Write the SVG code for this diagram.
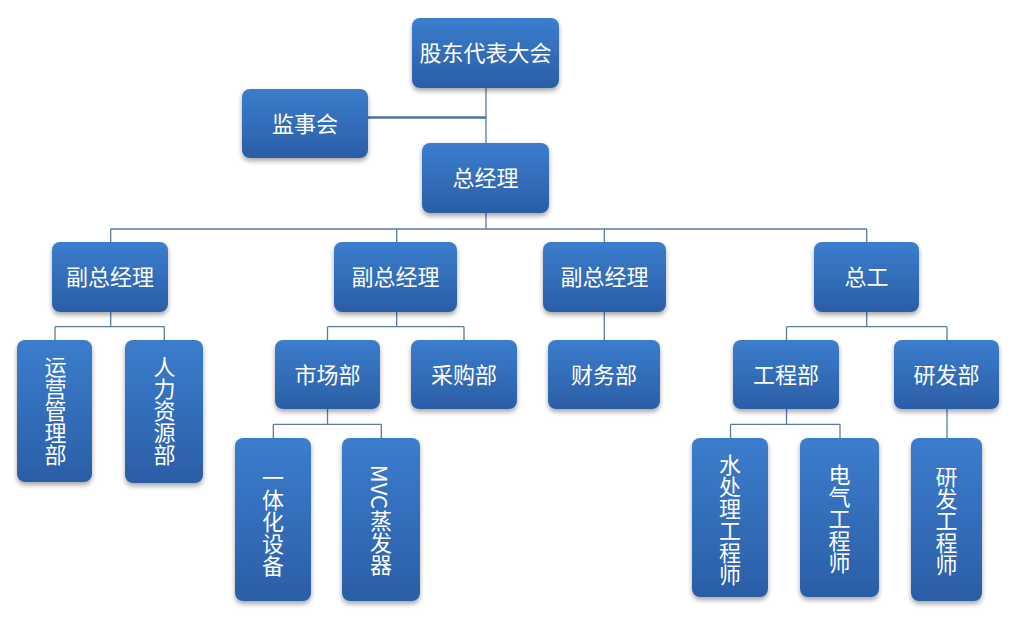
<svg xmlns="http://www.w3.org/2000/svg" width="1011" height="628" viewBox="0 0 1011 628">
<defs>
<linearGradient id="g" x1="0" y1="0" x2="0" y2="1">
<stop offset="0" stop-color="#3b7dcd"/>
<stop offset="1" stop-color="#2b5ea6"/>
</linearGradient>
<filter id="sh" x="-20%" y="-20%" width="140%" height="150%">
<feGaussianBlur in="SourceAlpha" stdDeviation="2.5"/>
<feOffset dx="0" dy="3" result="b"/>
<feComponentTransfer><feFuncA type="linear" slope="0.35"/></feComponentTransfer>
<feMerge><feMergeNode/><feMergeNode in="SourceGraphic"/></feMerge>
</filter>
</defs>
<style>
.box{fill:url(#g);filter:url(#sh);}
.t{fill:#ffffff;font-family:"Noto Sans CJK SC","Noto Sans",sans-serif;font-size:22px;text-anchor:middle;dominant-baseline:central;}
.v{writing-mode:vertical-rl;}
.c{fill:none;stroke:#5a7ca3;stroke-width:1.3;}
.ct{fill:none;stroke:#4a72a8;stroke-width:2.6;}
</style>
<rect width="1011" height="628" fill="#ffffff"/>
<g id="connectors">
<path class="c" d="M486,88V143M486,213V229M110.7,229H866.7M110.7,229V242M396.7,229V242M604.3,229V242M866.7,229V242"/>
<path class="ct" d="M368,117.5H486"/>
<path class="c" d="M110.7,312V326.7M55,326.7H164.3M55,326.7V340M164.3,326.7V340"/>
<path class="c" d="M396.7,312V326.7M327.5,326.7H464M327.5,326.7V340M464,326.7V340"/>
<path class="c" d="M604.3,312V340"/>
<path class="c" d="M866.7,312V326.7M786.5,326.7H947M786.5,326.7V340M947,326.7V340"/>
<path class="c" d="M327.5,409V424.3M273.3,424.3H381.3M273.3,424.3V438M381.3,424.3V438"/>
<path class="c" d="M786.5,409V424.3M730.5,424.3H840M730.5,424.3V438M840,424.3V438"/>
<path class="c" d="M947,409V438"/>
</g>
<g id="n1"><rect class="box" x="412" y="18" width="147" height="70" rx="8"/><text class="t" x="485.5" y="51">股东代表大会</text></g>
<g id="n2"><rect class="box" x="242" y="89" width="126" height="69" rx="8"/><text class="t" x="305" y="121.5">监事会</text></g>
<g id="n3"><rect class="box" x="422" y="143" width="127" height="70" rx="8"/><text class="t" x="485.5" y="176">总经理</text></g>
<g id="n4"><rect class="box" x="52" y="242" width="116" height="70" rx="8"/><text class="t" x="110" y="275">副总经理</text></g>
<g id="n5"><rect class="box" x="334" y="242" width="123" height="70" rx="8"/><text class="t" x="395.5" y="275">副总经理</text></g>
<g id="n6"><rect class="box" x="543" y="242" width="123" height="70" rx="8"/><text class="t" x="604.5" y="275">副总经理</text></g>
<g id="n7"><rect class="box" x="814" y="242" width="105" height="70" rx="8"/><text class="t" x="866.5" y="275">总工</text></g>
<g id="n8"><rect class="box" x="17" y="340" width="75" height="142" rx="8"/><text class="t v" x="55.5" y="411">运营管理部</text></g>
<g id="n9"><rect class="box" x="125" y="340" width="78" height="143" rx="8"/><text class="t v" x="164.5" y="411">人力资源部</text></g>
<g id="n10"><rect class="box" x="275" y="340" width="105" height="69" rx="8"/><text class="t" x="327.5" y="372.5">市场部</text></g>
<g id="n11"><rect class="box" x="411" y="340" width="106" height="69" rx="8"/><text class="t" x="464" y="372.5">采购部</text></g>
<g id="n12"><rect class="box" x="548" y="340" width="112" height="69" rx="8"/><text class="t" x="604" y="372.5">财务部</text></g>
<g id="n13"><rect class="box" x="733" y="340" width="106" height="69" rx="8"/><text class="t" x="786" y="372.5">工程部</text></g>
<g id="n14"><rect class="box" x="894" y="340" width="105" height="69" rx="8"/><text class="t" x="946.5" y="372.5">研发部</text></g>
<g id="n15"><rect class="box" x="235" y="438" width="76" height="163" rx="8"/><text class="t v" x="273" y="522">一体化设备</text></g>
<g id="n16"><rect class="box" x="342" y="438" width="78" height="163" rx="8"/><text class="t v" x="381" y="520">MVC蒸发器</text></g>
<g id="n17"><rect class="box" x="692" y="438" width="76" height="159" rx="8"/><text class="t v" x="730" y="519.5">水处理工程师</text></g>
<g id="n18"><rect class="box" x="800" y="438" width="79" height="159" rx="8"/><text class="t v" x="839.5" y="519">电气工程师</text></g>
<g id="n19"><rect class="box" x="911" y="438" width="71" height="163" rx="8"/><text class="t v" x="946.5" y="521">研发工程师</text></g>
</svg>
